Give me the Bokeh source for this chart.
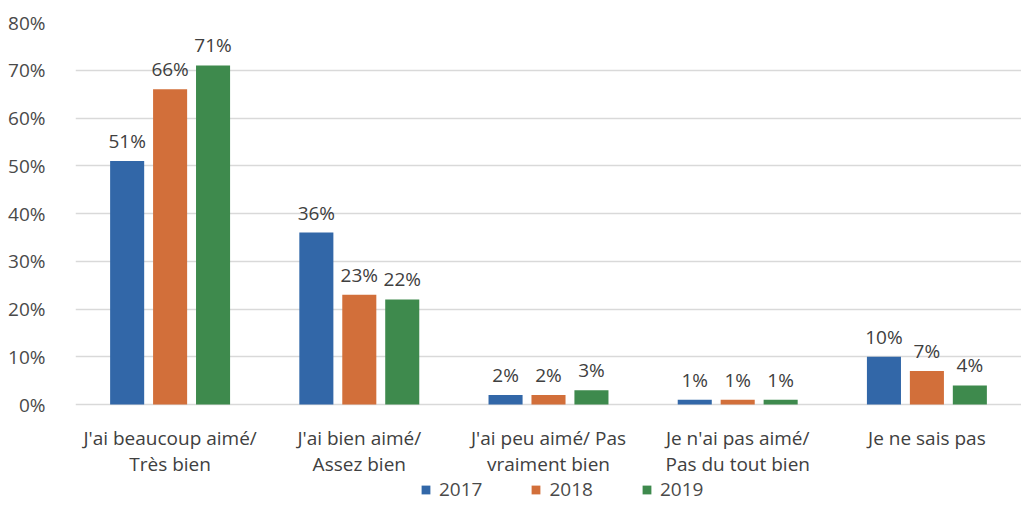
from bokeh.plotting import figure
from bokeh.models import (ColumnDataSource, FactorRange, Range1d, FixedTicker,
                          NumeralTickFormatter, Legend, LegendItem)
from bokeh.transform import dodge
from bokeh.core.properties import value
from bokeh.embed import file_html
from bokeh.resources import INLINE

categories = ["J'ai beaucoup aimé/\nTrès bien",
              "J'ai bien aimé/\nAssez bien",
              "J'ai peu aimé/ Pas\nvraiment bien",
              "Je n'ai pas aimé/\nPas du tout bien",
              "Je ne sais pas"]
years = ["2017", "2018", "2019"]
v2017 = [0.51, 0.36, 0.02, 0.01, 0.10]
v2018 = [0.66, 0.23, 0.02, 0.01, 0.07]
v2019 = [0.71, 0.22, 0.03, 0.01, 0.04]
y_ticks = [0, 0.1, 0.2, 0.3, 0.4, 0.5, 0.6, 0.7, 0.8]

colors = ["#3267a8", "#d26f3a", "#3e8a4d"]
FONT = "Open Sans"
TEXT = "#404040"
W, H = 1021, 505
TOP, ZERO = 22, 404          # screen rows of 80% and 0%
px_per_unit = (ZERO - TOP) / 0.8
y_start = -(H - ZERO) / px_per_unit

def pct(vals):
    return ["%d%%" % round(v * 100) for v in vals]

line1 = [c.split("\n")[0] for c in categories]
line2 = [c.split("\n")[1] if "\n" in c else "" for c in categories]

src = ColumnDataSource(dict(
    cat=categories, line1=line1, line2=line2, zero=[0] * len(categories),
    v2017=v2017, v2018=v2018, v2019=v2019,
    l2017=pct(v2017), l2018=pct(v2018), l2019=pct(v2019),
))

p = figure(width=W, height=H, x_range=FactorRange(*categories, range_padding=0),
           y_range=Range1d(y_start, 0.8), output_backend="svg", toolbar_location=None,
           x_axis_location=None,
           min_border_left=75, min_border_right=0, min_border_top=TOP, min_border_bottom=0)
p.x_range.factor_padding = 0
p.outline_line_color = None
p.background_fill_color = "white"
p.border_fill_color = "white"

p.yaxis.ticker = FixedTicker(ticks=y_ticks)
p.yaxis.formatter = NumeralTickFormatter(format="0%")
p.yaxis.axis_line_color = None
p.yaxis.major_tick_line_color = None
p.yaxis.minor_tick_line_color = None
p.yaxis.major_label_text_font = FONT
p.yaxis.major_label_text_font_size = "19px"
p.yaxis.major_label_text_color = "#4a4a4a"
p.yaxis.major_label_standoff = 24

p.xgrid.grid_line_color = None
p.ygrid.grid_line_color = "#d9d9d9"
p.ygrid.grid_line_width = 1.5

offsets = [-0.227, 0.0, 0.227]
renderers = []
for yr, off, col in zip(years, offsets, colors):
    r = p.vbar(x=dodge("cat", off, range=p.x_range), top="v" + yr, width=0.18,
               source=src, fill_color=col, line_color=None)
    renderers.append(r)
    p.text(x=dodge("cat", off, range=p.x_range), y="v" + yr, text="l" + yr,
           source=src, text_align="center", text_baseline="bottom", y_offset=-7,
           text_font=value(FONT), text_font_size="19px", text_color=TEXT)

# category labels (two lines) below the baseline
for col_name, dy in (("line1", 33), ("line2", 59)):
    p.text(x="cat", y="zero", text=col_name, source=src, text_align="center",
           text_baseline="middle", y_offset=dy, text_font=value(FONT),
           text_font_size="19px", text_color=TEXT)

legend = Legend(items=[LegendItem(label=yr, renderers=[r]) for yr, r in zip(years, renderers)],
                orientation="horizontal", location=(345, 3),
                glyph_width=11, glyph_height=11, label_standoff=8, spacing=48,
                padding=0, margin=0, border_line_color=None, background_fill_alpha=0,
                label_text_font=FONT, label_text_font_size="19px",
                label_text_color="#4a4a4a", label_height=22)
p.add_layout(legend, "center")

open("out.html", "w").write(file_html(p, INLINE))
